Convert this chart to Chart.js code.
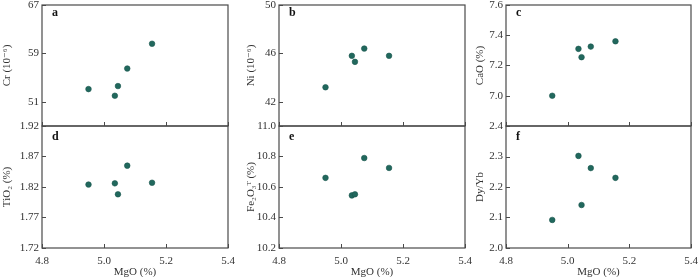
<!DOCTYPE html>
<html><head><meta charset="utf-8">
<script src="https://cdn.jsdelivr.net/npm/chart.js@4/dist/chart.umd.min.js"></script>
<style>html,body{margin:0;padding:0;background:#fff;overflow:hidden}
#wrap{position:relative;width:700px;height:277px}
canvas{position:absolute;left:0;top:0}
</style></head><body><div id="wrap"></div>
<script>
// ---- data ----
const mgo   = [4.95, 5.035, 5.045, 5.075, 5.155];
const cr    = [53.1, 52.0, 53.6, 56.5, 60.6];
const ni    = [43.2, 45.8, 45.3, 46.4, 45.8];
const cao   = [7.00, 7.31, 7.255, 7.325, 7.36];
const tio2  = [1.824, 1.826, 1.808, 1.855, 1.827];
const fe2o3 = [10.66, 10.545, 10.552, 10.79, 10.725];
const dyyb  = [2.092, 2.302, 2.141, 2.262, 2.23];
const xTicks = [4.8, 5.0, 5.2, 5.4];
const crTicks = [51, 59, 67];
const niTicks = [42, 46, 50];
const caoTicks = [7.0, 7.2, 7.4, 7.6];
const tio2Ticks = [1.72, 1.77, 1.82, 1.87, 1.92];
const fe2o3Ticks = [10.2, 10.4, 10.6, 10.8, 11.0];
const dyybTicks = [2.0, 2.1, 2.2, 2.3, 2.4];
const letters = ['a','b','c','d','e','f'];
const yTitles = ['Cr (10⁻⁶)','Ni (10⁻⁶)','CaO (%)','TiO₂ (%)','Fe₂O₃ᵀ (%)','Dy/Yb'];
const xTitle = 'MgO (%)';

const panels = [
  {y: cr,    ticks: crTicks,    min: 47,   max: 67,   dec: 0},
  {y: ni,    ticks: niTicks,    min: 40,   max: 50,   dec: 0},
  {y: cao,   ticks: caoTicks,   min: 6.8,  max: 7.6,  dec: 1},
  {y: tio2,  ticks: tio2Ticks,  min: 1.72, max: 1.92, dec: 2},
  {y: fe2o3, ticks: fe2o3Ticks, min: 10.2, max: 11.0, dec: 1},
  {y: dyyb,  ticks: dyybTicks,  min: 2.0,  max: 2.4,  dec: 1}
];

// ---- layout ----
const W = 700, H = 277;
const cols = [{l:42, r:228, tw:35}, {l:279, r:465, tw:28}, {l:506, r:691, tw:26}];
const rows = [{t:5, b:126, lb:10.7}, {t:126, b:248, lb:13.7}];
const FONT = "'Liberation Serif','DejaVu Serif',serif";
const TITLE_LH = 13.2;

Chart.defaults.font.family = FONT;
Chart.defaults.font.size = 11;
Chart.defaults.color = '#333';

const framePlugin = {
  id: 'frame',
  beforeDatasetsDraw(chart, args, opts) {
    const {ctx, chartArea: a, scales} = chart;
    ctx.save();
    ctx.strokeStyle = '#4a4a4a';
    ctx.lineWidth = 1.2;
    ctx.strokeRect(a.left, a.top, a.right - a.left, a.bottom - a.top);
    ctx.lineWidth = 1;
    ctx.beginPath();
    scales.x.ticks.forEach(t => {
      const px = Math.round(scales.x.getPixelForValue(t.value)) + 0.5;
      ctx.moveTo(px, a.bottom); ctx.lineTo(px, a.bottom - 4);
    });
    scales.y.ticks.forEach(t => {
      const py = Math.round(scales.y.getPixelForValue(t.value)) + 0.5;
      ctx.moveTo(a.left, py); ctx.lineTo(a.left + 4, py);
    });
    ctx.stroke();
    ctx.fillStyle = '#111';
    ctx.font = "bold 12px " + FONT;
    ctx.textAlign = 'left';
    ctx.textBaseline = 'alphabetic';
    ctx.fillText(opts.letter, a.left + 10, a.top + opts.lb);
    ctx.restore();
  }
};

const wrap = document.getElementById('wrap');
panels.forEach((p, i) => {
  const col = cols[i % 3], row = rows[Math.floor(i / 3)];
  const bottomRow = i >= 3;
  const yW = col.tw + TITLE_LH / 2;
  const xH = bottomRow ? (H - row.b) : 0;
  const cv = document.createElement('canvas');
  cv.width = W; cv.height = H;
  cv.style.width = W + 'px'; cv.style.height = H + 'px';
  wrap.appendChild(cv);
  new Chart(cv, {
    type: 'scatter',
    data: {
      datasets: [{
        data: mgo.map((x, k) => ({x: x, y: p.y[k]})),
        backgroundColor: '#21685d',
        borderColor: '#1a564d',
        borderWidth: 0.6,
        pointRadius: 2.8,
        pointHoverRadius: 2.8
      }]
    },
    options: {
      responsive: false,
      animation: false,
      devicePixelRatio: 1,
      events: [],
      layout: {padding: {left: col.l - yW, right: W - col.r, top: row.t, bottom: H - row.b - xH}},
      plugins: {legend: {display: false}, tooltip: {enabled: false},
                frame: {letter: letters[i], lb: row.lb}},
      scales: {
        x: {
          type: 'linear', min: 4.8, max: 5.4,
          afterBuildTicks: s => { s.ticks = xTicks.map(v => ({value: v})); },
          afterFit: s => { s.height = xH; s.paddingLeft = 0; s.paddingRight = 0; },
          grid: {display: false, drawTicks: false},
          border: {display: false},
          ticks: {display: bottomRow, padding: 7, maxRotation: 0, autoSkip: false,
                  callback: v => Number(v).toFixed(1), color: '#333'},
          title: {display: bottomRow, text: xTitle, padding: {top: 0, bottom: -2},
                  font: {size: 11}, color: '#333'}
        },
        y: {
          type: 'linear', min: p.min, max: p.max,
          afterBuildTicks: s => { s.ticks = p.ticks.map(v => ({value: v})); },
          afterFit: s => { s.width = yW; s.paddingTop = 0; s.paddingBottom = 0; },
          grid: {display: false, drawTicks: false},
          border: {display: false},
          ticks: {padding: 3, autoSkip: false, callback: v => Number(v).toFixed(p.dec), color: '#333'},
          title: {display: true, text: yTitles[i], padding: {top: 0, bottom: 0},
                  font: {size: 11}, color: '#333'}
        }
      }
    },
    plugins: [framePlugin]
  });
});
</script></body></html>
